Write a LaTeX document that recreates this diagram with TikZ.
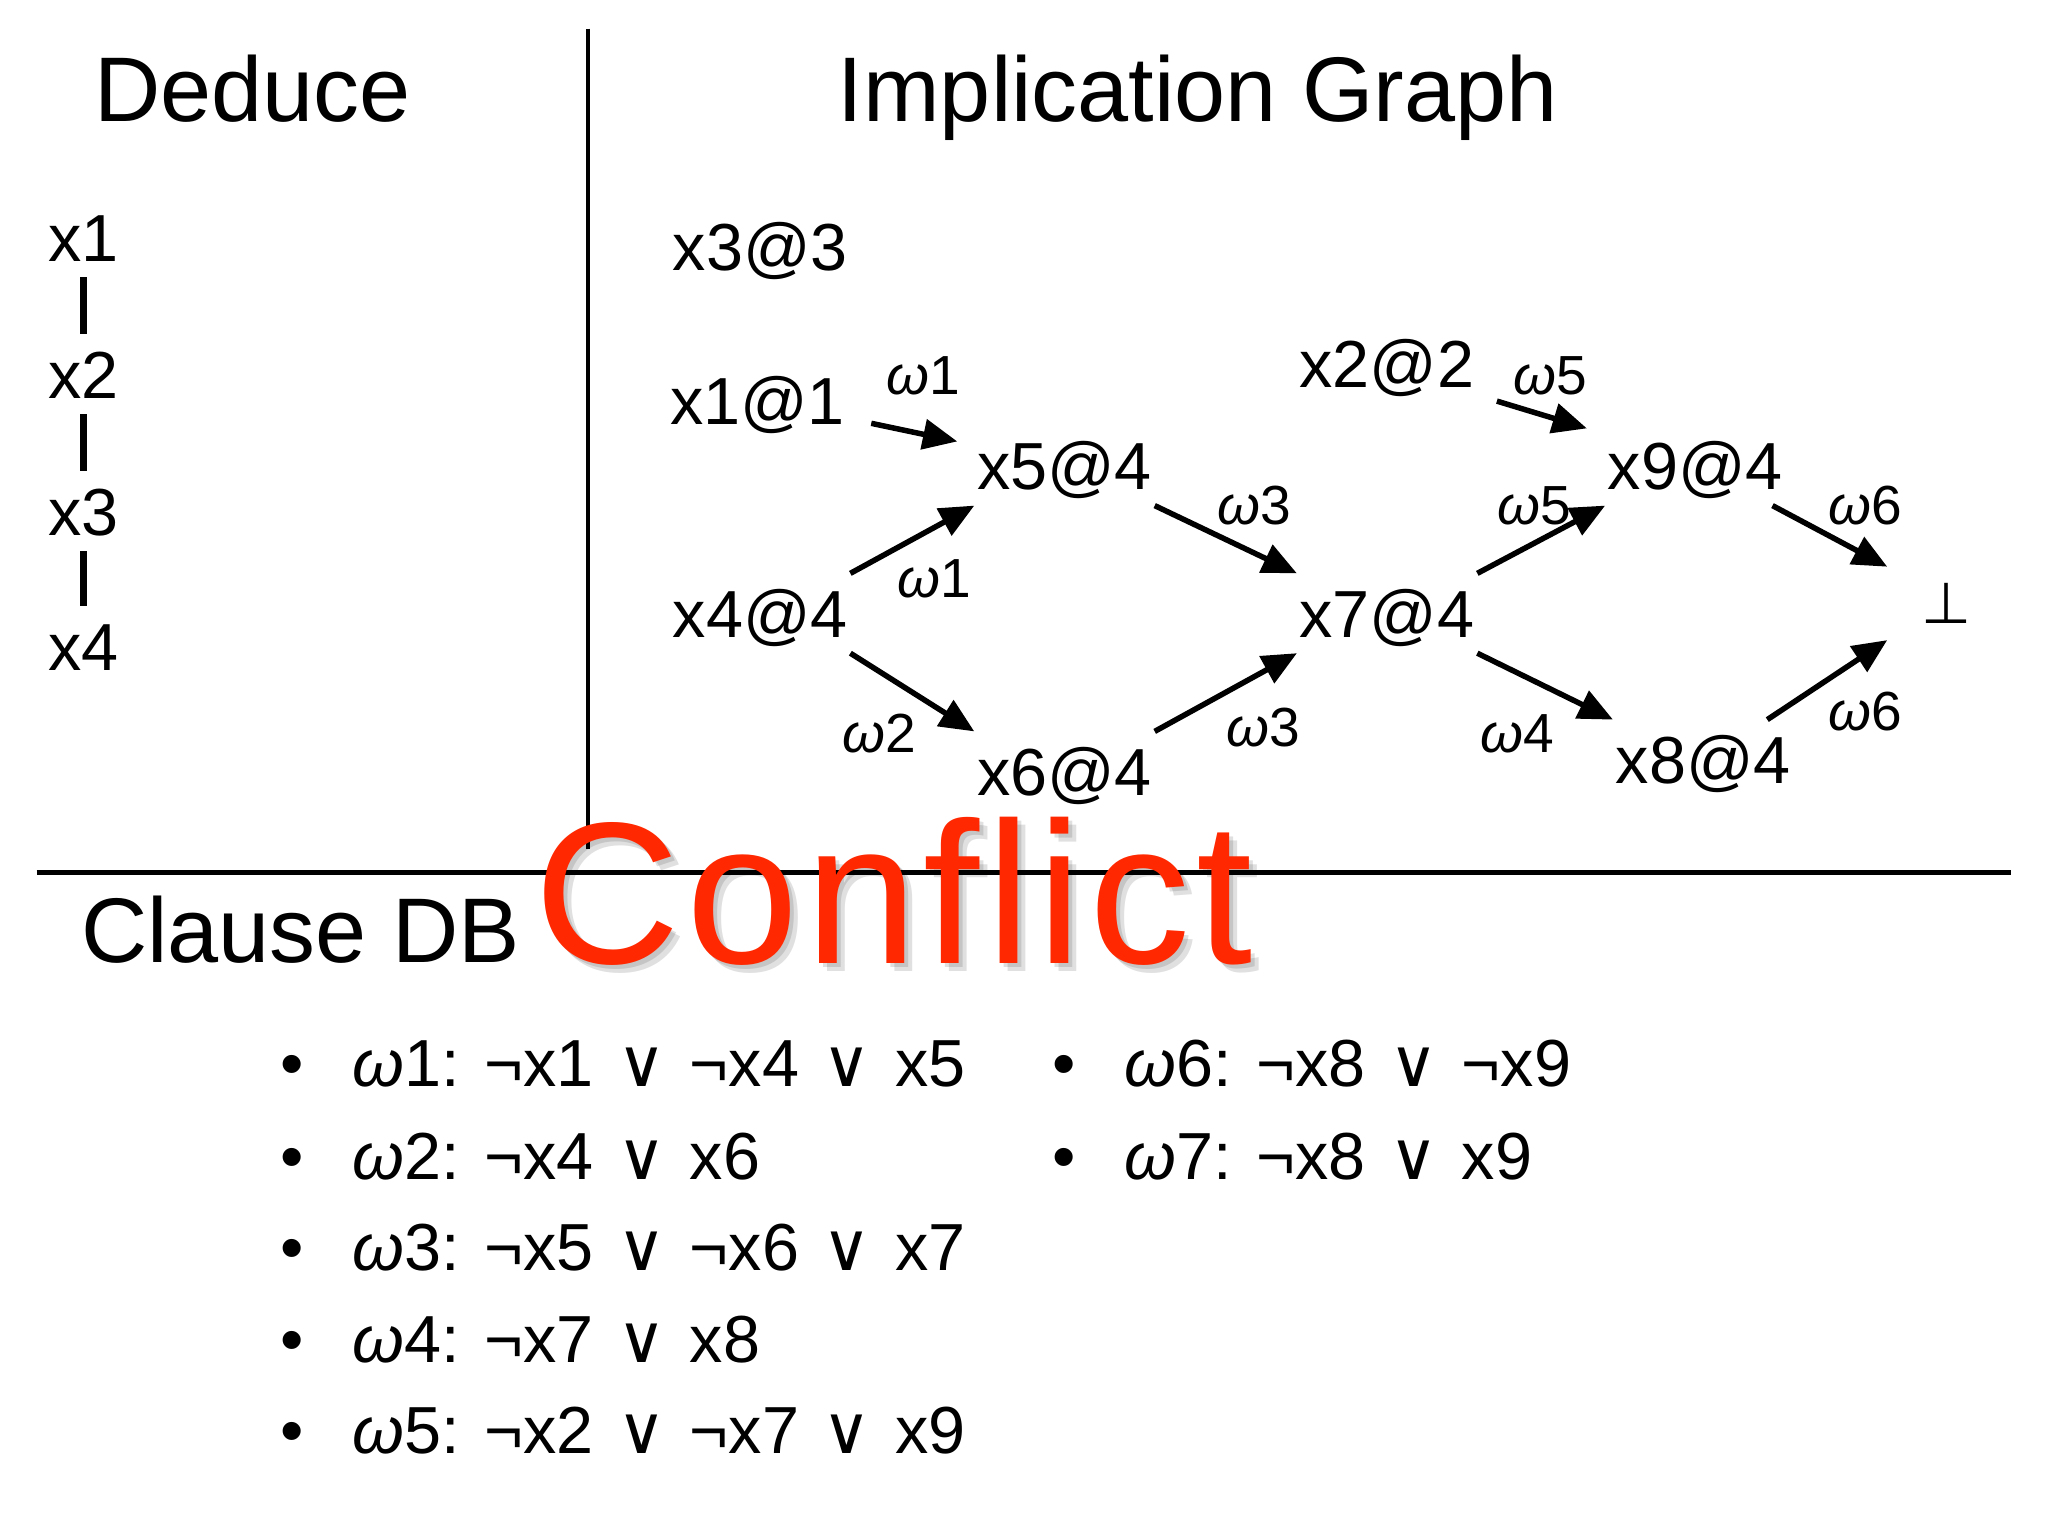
\documentclass[tikz,border=0pt]{standalone}
\usepackage{fontspec}
\setmainfont{Liberation Sans}
\newfontfamily\symfont{DejaVu Sans}
\newfontfamily\conflictfont[LetterSpace=3.2]{Liberation Sans}
\usetikzlibrary{arrows.meta}

\definecolor{conflictred}{RGB}{255,40,0}
\newcommand{\headfont}{\fontsize{20}{24}\selectfont}
\newcommand{\litfont}{\fontsize{14.5}{17}\selectfont}
\newcommand{\labfont}{\fontsize{12}{14}\selectfont}
\newcommand{\dis}{\hspace{0.04cm}{\symfont ∨}\hspace{0.04cm}}
\newcommand{\om}{{\itshape ω}}

\tikzset{
  heading/.style={font=\headfont, anchor=base west, inner sep=0pt},
  lit/.style={font=\litfont, anchor=base, inner xsep=0pt, inner ysep=0.1cm,
    text height=10.5pt, text depth=0pt},
  wlab/.style={font=\labfont},
  clause/.style={font=\litfont, anchor=base west, inner sep=0pt},
  conflict/.style={font=\conflictfont\fontsize{44}{50}\selectfont, text=conflictred,
    anchor=base west, inner sep=0pt},
}

\begin{document}
\begin{tikzpicture}[>={Triangle[length=7.5pt,width=6.5pt]}, line width=1.2pt]
\useasboundingbox (0,0) rectangle (15.68,-11.76);

% frame
\draw[line width=0.9pt] (4.50,-0.22) -- (4.50,-6.50);
\draw[line width=0.9pt] (0.28,-6.68) -- (15.40,-6.68);

\node[heading] (deduce) at (0.70,-0.93) {Deduce};
\node[heading, anchor=base] (impl) at (9.17,-0.93) {Implication Graph};
\node[heading] (db) at (0.60,-7.37) {Clause DB};

% decisions
\node[lit, anchor=base west] (d1) at (0.35,-2.00) {x1};
\node[lit, anchor=base west] (d2) at (0.35,-3.05) {x2};
\node[lit, anchor=base west] (d3) at (0.35,-4.10) {x3};
\node[lit, anchor=base west] (d4) at (0.35,-5.13) {x4};
\draw[line width=1.4pt] (d1.south) -- (d2.north);
\draw[line width=1.4pt] (d2.south) -- (d3.north);
\draw[line width=1.4pt] (d3.south) -- (d4.north);

% implication graph
\node[lit] (x3) at (5.82,-2.07) {x3@3};
\node[lit] (x1) at (5.80,-3.25) {x1@1};
\node[lit] (x4) at (5.82,-4.88) {x4@4};
\node[lit] (x5) at (8.15,-3.75) {x5@4};
\node[lit] (x6) at (8.15,-6.09) {x6@4};
\node[lit] (x2) at (10.62,-2.97) {x2@2};
\node[lit] (x7) at (10.62,-4.88) {x7@4};
\node[lit] (x9) at (12.98,-3.75) {x9@4};
\node[lit] (x8) at (13.04,-6.00) {x8@4};
\node[font=\symfont\fontsize{12.5}{14}\selectfont, minimum width=0.86cm,
  minimum height=0.52cm, inner sep=0pt] (bot) at (14.90,-4.62) {⊥};

\draw[->] ([shift={(0.18,0.13)}]x1.south east) -- ([shift={(-0.13,-0.12)}]x5.north west);
\draw[->] (x4.north east) -- (x5.south west);
\draw[->] (x4.south east) -- (x6.north west);
\draw[->] (x5.south east) -- (x7.north west);
\draw[->] (x6.north east) -- (x7.south west);
\draw[->] ([shift={(0.15,0.02)}]x2.south east) -- ([shift={(-0.14,-0.02)}]x9.north west);
\draw[->] (x7.north east) -- (x9.south west);
\draw[->] (x7.south east) -- (x8.north west);
\draw[->] ([xshift=-0.1cm]x9.south east) -- (bot.north west);
\draw[->] ([xshift=-0.2cm]x8.north east) -- (bot.south west);

\node[wlab] (l1) at (7.07,-2.88) {\om 1};
\node[wlab] (l2) at (7.15,-4.43) {\om 1};
\node[wlab] (l3) at (6.73,-5.62) {\om 2};
\node[wlab] (l4) at (9.60,-3.87) {\om 3};
\node[wlab] (l5) at (9.67,-5.57) {\om 3};
\node[wlab] (l6) at (11.87,-2.88) {\om 5};
\node[wlab] (l7) at (11.75,-3.87) {\om 5};
\node[wlab] (l8) at (11.62,-5.62) {\om 4};
\node[wlab] (l9) at (14.28,-3.87) {\om 6};
\node[wlab] (l10) at (14.28,-5.45) {\om 6};

% clause db
\foreach \k/\px/\py/\cl in {
    1/2.13/8.32/{¬x1 \dis{} ¬x4 \dis{} x5},
    2/2.13/9.03/{¬x4 \dis{} x6},
    3/2.13/9.73/{¬x5 \dis{} ¬x6 \dis{} x7},
    4/2.13/10.43/{¬x7 \dis{} x8},
    5/2.13/11.13/{¬x2 \dis{} ¬x7 \dis{} x9},
    6/8.04/8.32/{¬x8 \dis{} ¬x9},
    7/8.04/9.03/{¬x8 \dis{} x9}}
  \node[clause] (c\k) at (\px,-\py) {•\hspace{0.37cm}\om\k: \cl};

% conflict
\foreach \s [count=\j] in {0.03,0.06}
  \node[conflict, text=black, opacity=0.12] (shadow\j) at (4.07+\s,-7.38-\s) {Conflict};
\node[conflict] (conflict) at (4.07,-7.38) {Conflict};

\end{tikzpicture}
\end{document}
